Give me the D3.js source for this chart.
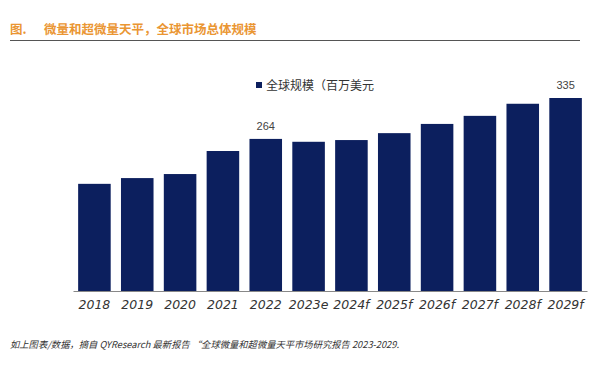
<!DOCTYPE html>
<html><head><meta charset="utf-8">
<script src="https://cdn.jsdelivr.net/npm/d3@7"></script>
<style>body{margin:0;background:#fff}</style>
</head><body>
<script>
const categories = ["2018","2019","2020","2021","2022","2023e","2024f","2025f","2026f","2027f","2028f","2029f"];
const values = [186,196,203,243,264,259,262,274,290,304,325,335];
const labelShown = ["2022","2029f"];
const seriesName = "全球规模（百万美元";
const title = "微量和超微量天平，全球市场总体规模";
const note = "如上图表/数据，摘自 QYResearch 最新报告 “全球微量和超微量天平市场研究报告 2023-2029.";

const W = 590, H = 366;
const svg = d3.select("body").append("svg").attr("width", W).attr("height", H);
svg.append("rect").attr("width", W).attr("height", H).attr("fill", "#fff");

// title
svg.append("text").attr("x", 10).attr("y", 34).attr("fill", "#ea9633")
  .attr("font-family", "Noto Sans CJK SC").attr("font-weight", "bold").attr("font-size", 12.5).text("图.");
svg.append("text").attr("x", 44).attr("y", 34).attr("fill", "#ea9633")
  .attr("font-family", "Noto Sans CJK SC").attr("font-weight", "bold").attr("font-size", 12.5).text(title);
svg.append("line").attr("x1", 10).attr("x2", 580).attr("y1", 40.5).attr("y2", 40.5)
  .attr("stroke", "#555").attr("stroke-width", 1.2);

const x = d3.scaleBand().domain(categories).range([73, 587]).paddingInner(0.24).paddingOuter(0.12);
const y = d3.scaleLinear().domain([0, 335]).range([291, 98]);

svg.append("g").selectAll("rect").data(categories).join("rect")
  .attr("x", d => x(d)).attr("width", x.bandwidth())
  .attr("y", (d, i) => y(values[i])).attr("height", (d, i) => y(0) - y(values[i]))
  .attr("fill", "#0c1f5e");

const ax = svg.append("g").attr("transform", `translate(0,${y(0)})`)
  .call(d3.axisBottom(x).tickSize(0).tickPadding(9));
ax.select(".domain").attr("stroke", "#888").attr("stroke-width", 1);
ax.selectAll("text").attr("font-family", "DejaVu Sans").attr("font-style", "italic")
  .attr("font-size", 12.5).attr("fill", "#333");

// data labels
svg.append("g").selectAll("text").data(categories.filter(c => labelShown.includes(c))).join("text")
  .attr("x", d => x(d) + x.bandwidth() / 2)
  .attr("y", d => y(values[categories.indexOf(d)]) - 9)
  .attr("text-anchor", "middle").attr("font-family", "Liberation Sans").attr("font-size", 11)
  .attr("fill", "#444").text(d => values[categories.indexOf(d)]);

// legend
svg.append("rect").attr("x", 256).attr("y", 82).attr("width", 6).attr("height", 6).attr("fill", "#0c1f5e");
svg.append("text").attr("x", 266).attr("y", 89.5).attr("font-family", "Noto Sans CJK SC")
  .attr("font-size", 12).attr("fill", "#333").text(seriesName);

// note
svg.append("text").attr("x", 10).attr("y", 348).attr("font-family", "Noto Sans CJK SC")
  .attr("font-size", 9.3).attr("font-style", "italic").attr("fill", "#333").text(note);
</script>
</body></html>
